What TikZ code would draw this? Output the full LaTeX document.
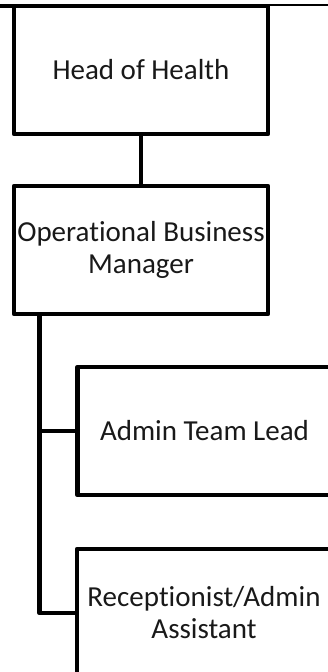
\documentclass[tikz,border=0pt]{standalone}
\usepackage{fontspec}
\setmainfont[Ligatures=NoCommon]{Carlito}
\begin{document}
\begin{tikzpicture}[x=1pt, y=-1pt, line width=4.5pt, line join=round,
  role/.style={draw, minimum width=254pt, minimum height=128pt, inner sep=0pt,
    outer sep=0pt, align=center, text=black!90, font=\fontsize{29}{32}\selectfont},
  link/.style={draw, line width=4.5pt}]
\useasboundingbox (0,0) rectangle (328,672);
\clip (0,0) rectangle (328,672);

% boxes of the chart
\node[role] (head) at (141,70)    {Head of Health};
\node[role] (obm)  at (141,250)   {Operational Business\\Manager};
\node[role] (atl)  at (204.5,431) {Admin Team Lead};
\node[role] (rec)  at (204,613)   {Receptionist/Admin\\Assistant};

% rule along the top edge
\coordinate (edgeL) at (0,6);
\coordinate (edgeR) at (328,5);
\draw[link] (edgeL) -- (head.north west);
\draw[line width=2pt] (head.north east |- edgeR) -- (edgeR);

% reporting lines
\coordinate (trunk) at (39.5,0);
\draw[link] (head.south) -- (obm.north);
\draw[link] (obm.south -| trunk) |- (rec.west);
\draw[link] (atl.west) -- (atl.west -| trunk);
\end{tikzpicture}
\end{document}
